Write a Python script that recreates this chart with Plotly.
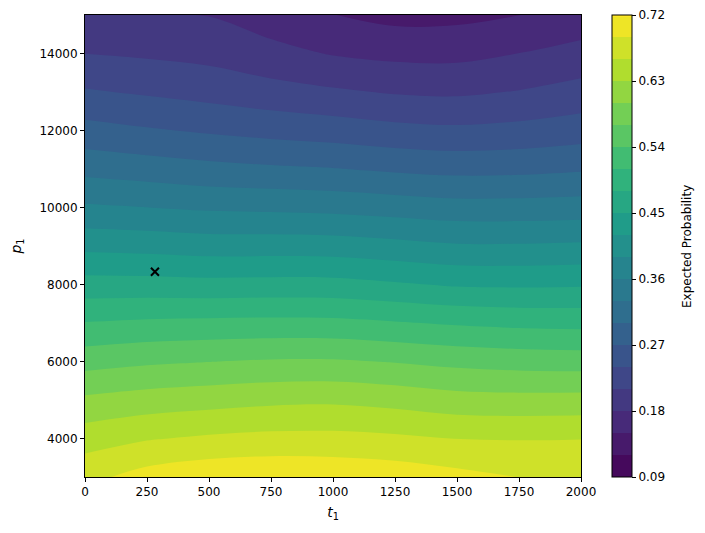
import plotly.graph_objects as go

# expected probability, one row per p_1 value
t1 = [0, 250, 500, 750, 1000, 1250, 1500, 1750, 2000]
p1 = [3000, 4000, 5000, 6000, 7000, 8000, 9000, 10000, 11000, 12000, 13000, 14000, 15000]

prob_p3000 = [0.681, 0.702, 0.7125, 0.7155, 0.7131, 0.708, 0.699, 0.6895, 0.6825]
prob_p4000 = [0.6465, 0.6576, 0.6645, 0.6684, 0.6687, 0.6654, 0.6594, 0.6585, 0.6594]
prob_p5000 = [0.6057, 0.6135, 0.6183, 0.6234, 0.6249, 0.6195, 0.6117, 0.6099, 0.6105]
prob_p6000 = [0.5583, 0.5652, 0.5694, 0.573, 0.5733, 0.5685, 0.5619, 0.558, 0.5562]
prob_p7000 = [0.5112, 0.5154, 0.5172, 0.5184, 0.5175, 0.5124, 0.5067, 0.5028, 0.501]
prob_p8000 = [0.462, 0.4614, 0.4593, 0.4605, 0.4599, 0.4536, 0.4467, 0.4455, 0.4467]
prob_p9000 = [0.4122, 0.4095, 0.4056, 0.4056, 0.4044, 0.399, 0.393, 0.393, 0.3951]
prob_p10000 = [0.3642, 0.3603, 0.3558, 0.354, 0.3516, 0.3468, 0.342, 0.342, 0.3438]
prob_p11000 = [0.321, 0.315, 0.3087, 0.3045, 0.3012, 0.2955, 0.2913, 0.2925, 0.2967]
prob_p12000 = [0.2805, 0.273, 0.2664, 0.2604, 0.2556, 0.249, 0.2457, 0.249, 0.2556]
prob_p13000 = [0.243, 0.2364, 0.2295, 0.2214, 0.2142, 0.2076, 0.2055, 0.2115, 0.2208]
prob_p14000 = [0.2097, 0.2058, 0.201, 0.189, 0.1782, 0.1725, 0.1719, 0.1803, 0.1905]
prob_p15000 = [0.1815, 0.1806, 0.1791, 0.165, 0.1506, 0.141, 0.1422, 0.1497, 0.1608]

# the "x" marker
best_t1 = [282]
best_p1 = [8330]

cbar_ticks = [0.09, 0.18, 0.27, 0.36, 0.45, 0.54, 0.63, 0.72]
x_ticks = [0, 250, 500, 750, 1000, 1250, 1500, 1750, 2000]
y_ticks = [4000, 6000, 8000, 10000, 12000, 14000]

z = [prob_p3000, prob_p4000, prob_p5000, prob_p6000, prob_p7000, prob_p8000, prob_p9000,
     prob_p10000, prob_p11000, prob_p12000, prob_p13000, prob_p14000, prob_p15000]

fig = go.Figure()

fig.add_contour(
    x=t1, y=p1, z=z,
    colorscale="Viridis", zmin=0.09, zmax=0.72,
    contours=dict(start=0.09, end=0.72, size=0.03, coloring="fill", showlines=False),
    line=dict(width=0, smoothing=1),
    colorbar=dict(
        tickvals=cbar_ticks, tickformat=".2f",
        ticks="outside", ticklen=4, tickcolor="black",
        tickfont=dict(size=12, color="black"),
        thickness=20, len=1, lenmode="fraction", y=0.5, yanchor="middle",
        x=1.0625, xanchor="left", xpad=0, ypad=0,
        outlinecolor="black", outlinewidth=1,
    ),
)

fig.add_scatter(
    x=best_t1, y=best_p1, mode="markers",
    marker=dict(symbol="x-thin", size=8, line=dict(width=2, color="black"), color="black"),
    showlegend=False,
)

# colorbar label placed by hand, a little further out than plotly puts it
fig.add_annotation(
    text="Expected Probability", textangle=-90,
    xref="paper", yref="paper", x=1.2137, y=0.5,
    xanchor="center", yanchor="middle", showarrow=False,
    font=dict(size=12, color="black"),
)

# page body adds an 8px margin, so the figure is a bit smaller than the window
fig.update_layout(
    width=697, height=525,
    margin=dict(l=77, r=124, t=7, b=56),
    paper_bgcolor="white", plot_bgcolor="white",
    font=dict(family="DejaVu Sans", size=12, color="black"),
    showlegend=False,
)

fig.update_xaxes(
    range=[0, 2000], tickvals=x_ticks,
    ticks="outside", ticklen=4, tickcolor="black",
    showline=True, linecolor="black", linewidth=1, mirror=True,
    showgrid=False, zeroline=False,
    title=dict(text="<i>t</i><sub>1</sub>", standoff=8),
)
fig.update_yaxes(
    range=[3000, 15000], tickvals=y_ticks, tickformat="d",
    ticks="outside", ticklen=4, tickcolor="black",
    showline=True, linecolor="black", linewidth=1, mirror=True,
    showgrid=False, zeroline=False,
    title=dict(text="<i>p</i><sub>1</sub>", standoff=14),
)

fig.write_html("out.html")
